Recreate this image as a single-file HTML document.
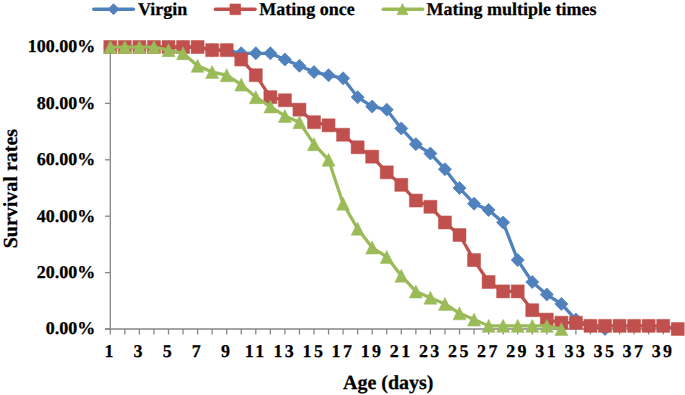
<!DOCTYPE html>
<html><head><meta charset="utf-8"><style>
html,body{margin:0;padding:0;background:#fff;}
body{width:685px;height:395px;overflow:hidden;}
svg{display:block;}
.t{text-rendering:geometricPrecision;font-family:"Liberation Serif",serif;font-weight:bold;font-size:18px;fill:#000;stroke:#000;stroke-width:0.25px;}
.tx{text-rendering:geometricPrecision;font-family:"Liberation Serif",serif;font-weight:bold;font-size:18px;letter-spacing:2.4px;fill:#000;stroke:#000;stroke-width:0.25px;}
.ti{text-rendering:geometricPrecision;font-family:"Liberation Serif",serif;font-weight:bold;font-size:20px;fill:#000;stroke:#000;stroke-width:0.25px;}
</style></head><body>
<svg width="685" height="395" viewBox="0 0 685 395">
<line x1="110.3" y1="47.00" x2="110.3" y2="329.0" stroke="#868686" stroke-width="1.3"/>
<line x1="105" y1="329.0" x2="678.25" y2="329.0" stroke="#868686" stroke-width="1.3"/>
<line x1="105" y1="329.00" x2="110.3" y2="329.00" stroke="#868686" stroke-width="1.3"/>
<line x1="105" y1="272.60" x2="110.3" y2="272.60" stroke="#868686" stroke-width="1.3"/>
<line x1="105" y1="216.20" x2="110.3" y2="216.20" stroke="#868686" stroke-width="1.3"/>
<line x1="105" y1="159.80" x2="110.3" y2="159.80" stroke="#868686" stroke-width="1.3"/>
<line x1="105" y1="103.40" x2="110.3" y2="103.40" stroke="#868686" stroke-width="1.3"/>
<line x1="105" y1="47.00" x2="110.3" y2="47.00" stroke="#868686" stroke-width="1.3"/>
<line x1="110.30" y1="329.0" x2="110.30" y2="334.5" stroke="#868686" stroke-width="1.3"/>
<line x1="124.85" y1="329.0" x2="124.85" y2="334.5" stroke="#868686" stroke-width="1.3"/>
<line x1="139.40" y1="329.0" x2="139.40" y2="334.5" stroke="#868686" stroke-width="1.3"/>
<line x1="153.95" y1="329.0" x2="153.95" y2="334.5" stroke="#868686" stroke-width="1.3"/>
<line x1="168.50" y1="329.0" x2="168.50" y2="334.5" stroke="#868686" stroke-width="1.3"/>
<line x1="183.05" y1="329.0" x2="183.05" y2="334.5" stroke="#868686" stroke-width="1.3"/>
<line x1="197.60" y1="329.0" x2="197.60" y2="334.5" stroke="#868686" stroke-width="1.3"/>
<line x1="212.15" y1="329.0" x2="212.15" y2="334.5" stroke="#868686" stroke-width="1.3"/>
<line x1="226.70" y1="329.0" x2="226.70" y2="334.5" stroke="#868686" stroke-width="1.3"/>
<line x1="241.25" y1="329.0" x2="241.25" y2="334.5" stroke="#868686" stroke-width="1.3"/>
<line x1="255.80" y1="329.0" x2="255.80" y2="334.5" stroke="#868686" stroke-width="1.3"/>
<line x1="270.35" y1="329.0" x2="270.35" y2="334.5" stroke="#868686" stroke-width="1.3"/>
<line x1="284.90" y1="329.0" x2="284.90" y2="334.5" stroke="#868686" stroke-width="1.3"/>
<line x1="299.45" y1="329.0" x2="299.45" y2="334.5" stroke="#868686" stroke-width="1.3"/>
<line x1="314.00" y1="329.0" x2="314.00" y2="334.5" stroke="#868686" stroke-width="1.3"/>
<line x1="328.55" y1="329.0" x2="328.55" y2="334.5" stroke="#868686" stroke-width="1.3"/>
<line x1="343.10" y1="329.0" x2="343.10" y2="334.5" stroke="#868686" stroke-width="1.3"/>
<line x1="357.65" y1="329.0" x2="357.65" y2="334.5" stroke="#868686" stroke-width="1.3"/>
<line x1="372.20" y1="329.0" x2="372.20" y2="334.5" stroke="#868686" stroke-width="1.3"/>
<line x1="386.75" y1="329.0" x2="386.75" y2="334.5" stroke="#868686" stroke-width="1.3"/>
<line x1="401.30" y1="329.0" x2="401.30" y2="334.5" stroke="#868686" stroke-width="1.3"/>
<line x1="415.85" y1="329.0" x2="415.85" y2="334.5" stroke="#868686" stroke-width="1.3"/>
<line x1="430.40" y1="329.0" x2="430.40" y2="334.5" stroke="#868686" stroke-width="1.3"/>
<line x1="444.95" y1="329.0" x2="444.95" y2="334.5" stroke="#868686" stroke-width="1.3"/>
<line x1="459.50" y1="329.0" x2="459.50" y2="334.5" stroke="#868686" stroke-width="1.3"/>
<line x1="474.05" y1="329.0" x2="474.05" y2="334.5" stroke="#868686" stroke-width="1.3"/>
<line x1="488.60" y1="329.0" x2="488.60" y2="334.5" stroke="#868686" stroke-width="1.3"/>
<line x1="503.15" y1="329.0" x2="503.15" y2="334.5" stroke="#868686" stroke-width="1.3"/>
<line x1="517.70" y1="329.0" x2="517.70" y2="334.5" stroke="#868686" stroke-width="1.3"/>
<line x1="532.25" y1="329.0" x2="532.25" y2="334.5" stroke="#868686" stroke-width="1.3"/>
<line x1="546.80" y1="329.0" x2="546.80" y2="334.5" stroke="#868686" stroke-width="1.3"/>
<line x1="561.35" y1="329.0" x2="561.35" y2="334.5" stroke="#868686" stroke-width="1.3"/>
<line x1="575.90" y1="329.0" x2="575.90" y2="334.5" stroke="#868686" stroke-width="1.3"/>
<line x1="590.45" y1="329.0" x2="590.45" y2="334.5" stroke="#868686" stroke-width="1.3"/>
<line x1="605.00" y1="329.0" x2="605.00" y2="334.5" stroke="#868686" stroke-width="1.3"/>
<line x1="619.55" y1="329.0" x2="619.55" y2="334.5" stroke="#868686" stroke-width="1.3"/>
<line x1="634.10" y1="329.0" x2="634.10" y2="334.5" stroke="#868686" stroke-width="1.3"/>
<line x1="648.65" y1="329.0" x2="648.65" y2="334.5" stroke="#868686" stroke-width="1.3"/>
<line x1="663.20" y1="329.0" x2="663.20" y2="334.5" stroke="#868686" stroke-width="1.3"/>
<line x1="677.75" y1="329.0" x2="677.75" y2="334.5" stroke="#868686" stroke-width="1.3"/>
<text transform="translate(95.30,334.40) scale(1,1.0)" text-anchor="end" class="t">0.00%</text>
<text transform="translate(95.30,278.00) scale(1,1.0)" text-anchor="end" class="t">20.00%</text>
<text transform="translate(95.30,221.60) scale(1,1.0)" text-anchor="end" class="t">40.00%</text>
<text transform="translate(95.30,165.20) scale(1,1.0)" text-anchor="end" class="t">60.00%</text>
<text transform="translate(95.30,108.80) scale(1,1.0)" text-anchor="end" class="t">80.00%</text>
<text transform="translate(95.30,52.40) scale(1,1.0)" text-anchor="end" class="t">100.00%</text>
<text transform="translate(110.20,357.00) scale(1,1.0)" text-anchor="middle" class="tx">1</text>
<text transform="translate(139.30,357.00) scale(1,1.0)" text-anchor="middle" class="tx">3</text>
<text transform="translate(168.40,357.00) scale(1,1.0)" text-anchor="middle" class="tx">5</text>
<text transform="translate(197.50,357.00) scale(1,1.0)" text-anchor="middle" class="tx">7</text>
<text transform="translate(226.60,357.00) scale(1,1.0)" text-anchor="middle" class="tx">9</text>
<text transform="translate(255.70,357.00) scale(1,1.0)" text-anchor="middle" class="tx">11</text>
<text transform="translate(284.80,357.00) scale(1,1.0)" text-anchor="middle" class="tx">13</text>
<text transform="translate(313.90,357.00) scale(1,1.0)" text-anchor="middle" class="tx">15</text>
<text transform="translate(343.00,357.00) scale(1,1.0)" text-anchor="middle" class="tx">17</text>
<text transform="translate(372.10,357.00) scale(1,1.0)" text-anchor="middle" class="tx">19</text>
<text transform="translate(401.20,357.00) scale(1,1.0)" text-anchor="middle" class="tx">21</text>
<text transform="translate(430.30,357.00) scale(1,1.0)" text-anchor="middle" class="tx">23</text>
<text transform="translate(459.40,357.00) scale(1,1.0)" text-anchor="middle" class="tx">25</text>
<text transform="translate(488.50,357.00) scale(1,1.0)" text-anchor="middle" class="tx">27</text>
<text transform="translate(517.60,357.00) scale(1,1.0)" text-anchor="middle" class="tx">29</text>
<text transform="translate(546.70,357.00) scale(1,1.0)" text-anchor="middle" class="tx">31</text>
<text transform="translate(575.80,357.00) scale(1,1.0)" text-anchor="middle" class="tx">33</text>
<text transform="translate(604.90,357.00) scale(1,1.0)" text-anchor="middle" class="tx">35</text>
<text transform="translate(634.00,357.00) scale(1,1.0)" text-anchor="middle" class="tx">37</text>
<text transform="translate(663.10,357.00) scale(1,1.0)" text-anchor="middle" class="tx">39</text>
<text transform="translate(388.20,388.60) scale(1,1)" text-anchor="middle" class="ti">Age (days)</text>
<text transform="translate(16.9,188.6) rotate(-90) scale(1,1.0)" text-anchor="middle" class="ti">Survival rates</text>
<polyline points="110.30,47.00 124.85,47.00 139.40,47.00 153.95,47.00 168.50,47.00 183.05,47.00 197.60,47.00 212.15,50.13 226.70,50.13 241.25,53.27 255.80,53.27 270.35,53.27 284.90,59.53 299.45,65.80 314.00,72.07 328.55,75.20 343.10,78.33 357.65,97.13 372.20,106.53 386.75,109.67 401.30,128.47 415.85,144.13 430.40,153.53 444.95,169.20 459.50,188.00 474.05,203.67 488.60,209.93 503.15,222.47 517.70,260.07 532.25,282.00 546.80,294.53 561.35,303.93 575.90,319.60 590.45,325.87 605.00,329.00" fill="none" stroke="#4F81BD" stroke-width="3.25" stroke-linejoin="round" stroke-linecap="round"/>
<path d="M110.30,40.50L116.80,47.00L110.30,53.50L103.80,47.00Z" fill="#4F81BD" stroke="#4F81BD" stroke-width="0.8" stroke-linejoin="round"/>
<path d="M124.85,40.50L131.35,47.00L124.85,53.50L118.35,47.00Z" fill="#4F81BD" stroke="#4F81BD" stroke-width="0.8" stroke-linejoin="round"/>
<path d="M139.40,40.50L145.90,47.00L139.40,53.50L132.90,47.00Z" fill="#4F81BD" stroke="#4F81BD" stroke-width="0.8" stroke-linejoin="round"/>
<path d="M153.95,40.50L160.45,47.00L153.95,53.50L147.45,47.00Z" fill="#4F81BD" stroke="#4F81BD" stroke-width="0.8" stroke-linejoin="round"/>
<path d="M168.50,40.50L175.00,47.00L168.50,53.50L162.00,47.00Z" fill="#4F81BD" stroke="#4F81BD" stroke-width="0.8" stroke-linejoin="round"/>
<path d="M183.05,40.50L189.55,47.00L183.05,53.50L176.55,47.00Z" fill="#4F81BD" stroke="#4F81BD" stroke-width="0.8" stroke-linejoin="round"/>
<path d="M197.60,40.50L204.10,47.00L197.60,53.50L191.10,47.00Z" fill="#4F81BD" stroke="#4F81BD" stroke-width="0.8" stroke-linejoin="round"/>
<path d="M212.15,43.63L218.65,50.13L212.15,56.63L205.65,50.13Z" fill="#4F81BD" stroke="#4F81BD" stroke-width="0.8" stroke-linejoin="round"/>
<path d="M226.70,43.63L233.20,50.13L226.70,56.63L220.20,50.13Z" fill="#4F81BD" stroke="#4F81BD" stroke-width="0.8" stroke-linejoin="round"/>
<path d="M241.25,46.77L247.75,53.27L241.25,59.77L234.75,53.27Z" fill="#4F81BD" stroke="#4F81BD" stroke-width="0.8" stroke-linejoin="round"/>
<path d="M255.80,46.77L262.30,53.27L255.80,59.77L249.30,53.27Z" fill="#4F81BD" stroke="#4F81BD" stroke-width="0.8" stroke-linejoin="round"/>
<path d="M270.35,46.77L276.85,53.27L270.35,59.77L263.85,53.27Z" fill="#4F81BD" stroke="#4F81BD" stroke-width="0.8" stroke-linejoin="round"/>
<path d="M284.90,53.03L291.40,59.53L284.90,66.03L278.40,59.53Z" fill="#4F81BD" stroke="#4F81BD" stroke-width="0.8" stroke-linejoin="round"/>
<path d="M299.45,59.30L305.95,65.80L299.45,72.30L292.95,65.80Z" fill="#4F81BD" stroke="#4F81BD" stroke-width="0.8" stroke-linejoin="round"/>
<path d="M314.00,65.57L320.50,72.07L314.00,78.57L307.50,72.07Z" fill="#4F81BD" stroke="#4F81BD" stroke-width="0.8" stroke-linejoin="round"/>
<path d="M328.55,68.70L335.05,75.20L328.55,81.70L322.05,75.20Z" fill="#4F81BD" stroke="#4F81BD" stroke-width="0.8" stroke-linejoin="round"/>
<path d="M343.10,71.83L349.60,78.33L343.10,84.83L336.60,78.33Z" fill="#4F81BD" stroke="#4F81BD" stroke-width="0.8" stroke-linejoin="round"/>
<path d="M357.65,90.63L364.15,97.13L357.65,103.63L351.15,97.13Z" fill="#4F81BD" stroke="#4F81BD" stroke-width="0.8" stroke-linejoin="round"/>
<path d="M372.20,100.03L378.70,106.53L372.20,113.03L365.70,106.53Z" fill="#4F81BD" stroke="#4F81BD" stroke-width="0.8" stroke-linejoin="round"/>
<path d="M386.75,103.17L393.25,109.67L386.75,116.17L380.25,109.67Z" fill="#4F81BD" stroke="#4F81BD" stroke-width="0.8" stroke-linejoin="round"/>
<path d="M401.30,121.97L407.80,128.47L401.30,134.97L394.80,128.47Z" fill="#4F81BD" stroke="#4F81BD" stroke-width="0.8" stroke-linejoin="round"/>
<path d="M415.85,137.63L422.35,144.13L415.85,150.63L409.35,144.13Z" fill="#4F81BD" stroke="#4F81BD" stroke-width="0.8" stroke-linejoin="round"/>
<path d="M430.40,147.03L436.90,153.53L430.40,160.03L423.90,153.53Z" fill="#4F81BD" stroke="#4F81BD" stroke-width="0.8" stroke-linejoin="round"/>
<path d="M444.95,162.70L451.45,169.20L444.95,175.70L438.45,169.20Z" fill="#4F81BD" stroke="#4F81BD" stroke-width="0.8" stroke-linejoin="round"/>
<path d="M459.50,181.50L466.00,188.00L459.50,194.50L453.00,188.00Z" fill="#4F81BD" stroke="#4F81BD" stroke-width="0.8" stroke-linejoin="round"/>
<path d="M474.05,197.17L480.55,203.67L474.05,210.17L467.55,203.67Z" fill="#4F81BD" stroke="#4F81BD" stroke-width="0.8" stroke-linejoin="round"/>
<path d="M488.60,203.43L495.10,209.93L488.60,216.43L482.10,209.93Z" fill="#4F81BD" stroke="#4F81BD" stroke-width="0.8" stroke-linejoin="round"/>
<path d="M503.15,215.97L509.65,222.47L503.15,228.97L496.65,222.47Z" fill="#4F81BD" stroke="#4F81BD" stroke-width="0.8" stroke-linejoin="round"/>
<path d="M517.70,253.57L524.20,260.07L517.70,266.57L511.20,260.07Z" fill="#4F81BD" stroke="#4F81BD" stroke-width="0.8" stroke-linejoin="round"/>
<path d="M532.25,275.50L538.75,282.00L532.25,288.50L525.75,282.00Z" fill="#4F81BD" stroke="#4F81BD" stroke-width="0.8" stroke-linejoin="round"/>
<path d="M546.80,288.03L553.30,294.53L546.80,301.03L540.30,294.53Z" fill="#4F81BD" stroke="#4F81BD" stroke-width="0.8" stroke-linejoin="round"/>
<path d="M561.35,297.43L567.85,303.93L561.35,310.43L554.85,303.93Z" fill="#4F81BD" stroke="#4F81BD" stroke-width="0.8" stroke-linejoin="round"/>
<path d="M575.90,313.10L582.40,319.60L575.90,326.10L569.40,319.60Z" fill="#4F81BD" stroke="#4F81BD" stroke-width="0.8" stroke-linejoin="round"/>
<path d="M590.45,319.37L596.95,325.87L590.45,332.37L583.95,325.87Z" fill="#4F81BD" stroke="#4F81BD" stroke-width="0.8" stroke-linejoin="round"/>
<path d="M605.00,322.50L611.50,329.00L605.00,335.50L598.50,329.00Z" fill="#4F81BD" stroke="#4F81BD" stroke-width="0.8" stroke-linejoin="round"/>
<polyline points="110.30,47.00 124.85,47.00 139.40,47.00 153.95,47.00 168.50,47.00 183.05,47.00 197.60,47.00 212.15,50.13 226.70,50.13 241.25,59.53 255.80,75.20 270.35,97.13 284.90,100.27 299.45,109.67 314.00,122.20 328.55,125.33 343.10,134.73 357.65,147.27 372.20,156.67 386.75,172.33 401.30,184.87 415.85,200.53 430.40,206.80 444.95,222.47 459.50,235.00 474.05,260.07 488.60,282.00 503.15,291.40 517.70,291.40 532.25,310.20 546.80,319.60 561.35,322.73 575.90,322.73 590.45,325.87 605.00,325.87 619.55,325.87 634.10,325.87 648.65,325.87 663.20,325.87 677.75,329.00" fill="none" stroke="#C0504D" stroke-width="3.25" stroke-linejoin="round" stroke-linecap="round"/>
<rect x="103.80" y="40.50" width="13.00" height="13.00" fill="#C0504D" stroke="#C0504D" stroke-width="0.5" stroke-linejoin="round"/>
<rect x="118.35" y="40.50" width="13.00" height="13.00" fill="#C0504D" stroke="#C0504D" stroke-width="0.5" stroke-linejoin="round"/>
<rect x="132.90" y="40.50" width="13.00" height="13.00" fill="#C0504D" stroke="#C0504D" stroke-width="0.5" stroke-linejoin="round"/>
<rect x="147.45" y="40.50" width="13.00" height="13.00" fill="#C0504D" stroke="#C0504D" stroke-width="0.5" stroke-linejoin="round"/>
<rect x="162.00" y="40.50" width="13.00" height="13.00" fill="#C0504D" stroke="#C0504D" stroke-width="0.5" stroke-linejoin="round"/>
<rect x="176.55" y="40.50" width="13.00" height="13.00" fill="#C0504D" stroke="#C0504D" stroke-width="0.5" stroke-linejoin="round"/>
<rect x="191.10" y="40.50" width="13.00" height="13.00" fill="#C0504D" stroke="#C0504D" stroke-width="0.5" stroke-linejoin="round"/>
<rect x="205.65" y="43.63" width="13.00" height="13.00" fill="#C0504D" stroke="#C0504D" stroke-width="0.5" stroke-linejoin="round"/>
<rect x="220.20" y="43.63" width="13.00" height="13.00" fill="#C0504D" stroke="#C0504D" stroke-width="0.5" stroke-linejoin="round"/>
<rect x="234.75" y="53.03" width="13.00" height="13.00" fill="#C0504D" stroke="#C0504D" stroke-width="0.5" stroke-linejoin="round"/>
<rect x="249.30" y="68.70" width="13.00" height="13.00" fill="#C0504D" stroke="#C0504D" stroke-width="0.5" stroke-linejoin="round"/>
<rect x="263.85" y="90.63" width="13.00" height="13.00" fill="#C0504D" stroke="#C0504D" stroke-width="0.5" stroke-linejoin="round"/>
<rect x="278.40" y="93.77" width="13.00" height="13.00" fill="#C0504D" stroke="#C0504D" stroke-width="0.5" stroke-linejoin="round"/>
<rect x="292.95" y="103.17" width="13.00" height="13.00" fill="#C0504D" stroke="#C0504D" stroke-width="0.5" stroke-linejoin="round"/>
<rect x="307.50" y="115.70" width="13.00" height="13.00" fill="#C0504D" stroke="#C0504D" stroke-width="0.5" stroke-linejoin="round"/>
<rect x="322.05" y="118.83" width="13.00" height="13.00" fill="#C0504D" stroke="#C0504D" stroke-width="0.5" stroke-linejoin="round"/>
<rect x="336.60" y="128.23" width="13.00" height="13.00" fill="#C0504D" stroke="#C0504D" stroke-width="0.5" stroke-linejoin="round"/>
<rect x="351.15" y="140.77" width="13.00" height="13.00" fill="#C0504D" stroke="#C0504D" stroke-width="0.5" stroke-linejoin="round"/>
<rect x="365.70" y="150.17" width="13.00" height="13.00" fill="#C0504D" stroke="#C0504D" stroke-width="0.5" stroke-linejoin="round"/>
<rect x="380.25" y="165.83" width="13.00" height="13.00" fill="#C0504D" stroke="#C0504D" stroke-width="0.5" stroke-linejoin="round"/>
<rect x="394.80" y="178.37" width="13.00" height="13.00" fill="#C0504D" stroke="#C0504D" stroke-width="0.5" stroke-linejoin="round"/>
<rect x="409.35" y="194.03" width="13.00" height="13.00" fill="#C0504D" stroke="#C0504D" stroke-width="0.5" stroke-linejoin="round"/>
<rect x="423.90" y="200.30" width="13.00" height="13.00" fill="#C0504D" stroke="#C0504D" stroke-width="0.5" stroke-linejoin="round"/>
<rect x="438.45" y="215.97" width="13.00" height="13.00" fill="#C0504D" stroke="#C0504D" stroke-width="0.5" stroke-linejoin="round"/>
<rect x="453.00" y="228.50" width="13.00" height="13.00" fill="#C0504D" stroke="#C0504D" stroke-width="0.5" stroke-linejoin="round"/>
<rect x="467.55" y="253.57" width="13.00" height="13.00" fill="#C0504D" stroke="#C0504D" stroke-width="0.5" stroke-linejoin="round"/>
<rect x="482.10" y="275.50" width="13.00" height="13.00" fill="#C0504D" stroke="#C0504D" stroke-width="0.5" stroke-linejoin="round"/>
<rect x="496.65" y="284.90" width="13.00" height="13.00" fill="#C0504D" stroke="#C0504D" stroke-width="0.5" stroke-linejoin="round"/>
<rect x="511.20" y="284.90" width="13.00" height="13.00" fill="#C0504D" stroke="#C0504D" stroke-width="0.5" stroke-linejoin="round"/>
<rect x="525.75" y="303.70" width="13.00" height="13.00" fill="#C0504D" stroke="#C0504D" stroke-width="0.5" stroke-linejoin="round"/>
<rect x="540.30" y="313.10" width="13.00" height="13.00" fill="#C0504D" stroke="#C0504D" stroke-width="0.5" stroke-linejoin="round"/>
<rect x="554.85" y="316.23" width="13.00" height="13.00" fill="#C0504D" stroke="#C0504D" stroke-width="0.5" stroke-linejoin="round"/>
<rect x="569.40" y="316.23" width="13.00" height="13.00" fill="#C0504D" stroke="#C0504D" stroke-width="0.5" stroke-linejoin="round"/>
<rect x="583.95" y="319.37" width="13.00" height="13.00" fill="#C0504D" stroke="#C0504D" stroke-width="0.5" stroke-linejoin="round"/>
<rect x="598.50" y="319.37" width="13.00" height="13.00" fill="#C0504D" stroke="#C0504D" stroke-width="0.5" stroke-linejoin="round"/>
<rect x="613.05" y="319.37" width="13.00" height="13.00" fill="#C0504D" stroke="#C0504D" stroke-width="0.5" stroke-linejoin="round"/>
<rect x="627.60" y="319.37" width="13.00" height="13.00" fill="#C0504D" stroke="#C0504D" stroke-width="0.5" stroke-linejoin="round"/>
<rect x="642.15" y="319.37" width="13.00" height="13.00" fill="#C0504D" stroke="#C0504D" stroke-width="0.5" stroke-linejoin="round"/>
<rect x="656.70" y="319.37" width="13.00" height="13.00" fill="#C0504D" stroke="#C0504D" stroke-width="0.5" stroke-linejoin="round"/>
<rect x="671.25" y="322.50" width="13.00" height="13.00" fill="#C0504D" stroke="#C0504D" stroke-width="0.5" stroke-linejoin="round"/>
<polyline points="110.30,47.00 124.85,47.00 139.40,47.00 153.95,47.00 168.50,50.13 183.05,53.27 197.60,65.80 212.15,72.07 226.70,75.20 241.25,84.60 255.80,97.13 270.35,106.53 284.90,115.93 299.45,122.20 314.00,144.13 328.55,159.80 343.10,203.67 357.65,228.73 372.20,247.53 386.75,256.93 401.30,275.73 415.85,291.40 430.40,297.67 444.95,303.93 459.50,313.33 474.05,319.60 488.60,325.87 503.15,325.87 517.70,325.87 532.25,325.87 546.80,325.87 561.35,329.00" fill="none" stroke="#9BBB59" stroke-width="3.25" stroke-linejoin="round" stroke-linecap="round"/>
<path d="M110.30,40.50L116.80,53.50L103.80,53.50Z" fill="#9BBB59" stroke="#9BBB59" stroke-width="0.5" stroke-linejoin="round"/>
<path d="M124.85,40.50L131.35,53.50L118.35,53.50Z" fill="#9BBB59" stroke="#9BBB59" stroke-width="0.5" stroke-linejoin="round"/>
<path d="M139.40,40.50L145.90,53.50L132.90,53.50Z" fill="#9BBB59" stroke="#9BBB59" stroke-width="0.5" stroke-linejoin="round"/>
<path d="M153.95,40.50L160.45,53.50L147.45,53.50Z" fill="#9BBB59" stroke="#9BBB59" stroke-width="0.5" stroke-linejoin="round"/>
<path d="M168.50,43.63L175.00,56.63L162.00,56.63Z" fill="#9BBB59" stroke="#9BBB59" stroke-width="0.5" stroke-linejoin="round"/>
<path d="M183.05,46.77L189.55,59.77L176.55,59.77Z" fill="#9BBB59" stroke="#9BBB59" stroke-width="0.5" stroke-linejoin="round"/>
<path d="M197.60,59.30L204.10,72.30L191.10,72.30Z" fill="#9BBB59" stroke="#9BBB59" stroke-width="0.5" stroke-linejoin="round"/>
<path d="M212.15,65.57L218.65,78.57L205.65,78.57Z" fill="#9BBB59" stroke="#9BBB59" stroke-width="0.5" stroke-linejoin="round"/>
<path d="M226.70,68.70L233.20,81.70L220.20,81.70Z" fill="#9BBB59" stroke="#9BBB59" stroke-width="0.5" stroke-linejoin="round"/>
<path d="M241.25,78.10L247.75,91.10L234.75,91.10Z" fill="#9BBB59" stroke="#9BBB59" stroke-width="0.5" stroke-linejoin="round"/>
<path d="M255.80,90.63L262.30,103.63L249.30,103.63Z" fill="#9BBB59" stroke="#9BBB59" stroke-width="0.5" stroke-linejoin="round"/>
<path d="M270.35,100.03L276.85,113.03L263.85,113.03Z" fill="#9BBB59" stroke="#9BBB59" stroke-width="0.5" stroke-linejoin="round"/>
<path d="M284.90,109.43L291.40,122.43L278.40,122.43Z" fill="#9BBB59" stroke="#9BBB59" stroke-width="0.5" stroke-linejoin="round"/>
<path d="M299.45,115.70L305.95,128.70L292.95,128.70Z" fill="#9BBB59" stroke="#9BBB59" stroke-width="0.5" stroke-linejoin="round"/>
<path d="M314.00,137.63L320.50,150.63L307.50,150.63Z" fill="#9BBB59" stroke="#9BBB59" stroke-width="0.5" stroke-linejoin="round"/>
<path d="M328.55,153.30L335.05,166.30L322.05,166.30Z" fill="#9BBB59" stroke="#9BBB59" stroke-width="0.5" stroke-linejoin="round"/>
<path d="M343.10,197.17L349.60,210.17L336.60,210.17Z" fill="#9BBB59" stroke="#9BBB59" stroke-width="0.5" stroke-linejoin="round"/>
<path d="M357.65,222.23L364.15,235.23L351.15,235.23Z" fill="#9BBB59" stroke="#9BBB59" stroke-width="0.5" stroke-linejoin="round"/>
<path d="M372.20,241.03L378.70,254.03L365.70,254.03Z" fill="#9BBB59" stroke="#9BBB59" stroke-width="0.5" stroke-linejoin="round"/>
<path d="M386.75,250.43L393.25,263.43L380.25,263.43Z" fill="#9BBB59" stroke="#9BBB59" stroke-width="0.5" stroke-linejoin="round"/>
<path d="M401.30,269.23L407.80,282.23L394.80,282.23Z" fill="#9BBB59" stroke="#9BBB59" stroke-width="0.5" stroke-linejoin="round"/>
<path d="M415.85,284.90L422.35,297.90L409.35,297.90Z" fill="#9BBB59" stroke="#9BBB59" stroke-width="0.5" stroke-linejoin="round"/>
<path d="M430.40,291.17L436.90,304.17L423.90,304.17Z" fill="#9BBB59" stroke="#9BBB59" stroke-width="0.5" stroke-linejoin="round"/>
<path d="M444.95,297.43L451.45,310.43L438.45,310.43Z" fill="#9BBB59" stroke="#9BBB59" stroke-width="0.5" stroke-linejoin="round"/>
<path d="M459.50,306.83L466.00,319.83L453.00,319.83Z" fill="#9BBB59" stroke="#9BBB59" stroke-width="0.5" stroke-linejoin="round"/>
<path d="M474.05,313.10L480.55,326.10L467.55,326.10Z" fill="#9BBB59" stroke="#9BBB59" stroke-width="0.5" stroke-linejoin="round"/>
<path d="M488.60,319.37L495.10,332.37L482.10,332.37Z" fill="#9BBB59" stroke="#9BBB59" stroke-width="0.5" stroke-linejoin="round"/>
<path d="M503.15,319.37L509.65,332.37L496.65,332.37Z" fill="#9BBB59" stroke="#9BBB59" stroke-width="0.5" stroke-linejoin="round"/>
<path d="M517.70,319.37L524.20,332.37L511.20,332.37Z" fill="#9BBB59" stroke="#9BBB59" stroke-width="0.5" stroke-linejoin="round"/>
<path d="M532.25,319.37L538.75,332.37L525.75,332.37Z" fill="#9BBB59" stroke="#9BBB59" stroke-width="0.5" stroke-linejoin="round"/>
<path d="M546.80,319.37L553.30,332.37L540.30,332.37Z" fill="#9BBB59" stroke="#9BBB59" stroke-width="0.5" stroke-linejoin="round"/>
<path d="M561.35,322.50L567.85,335.50L554.85,335.50Z" fill="#9BBB59" stroke="#9BBB59" stroke-width="0.5" stroke-linejoin="round"/>
<line x1="93.8" y1="9.2" x2="133.4" y2="9.2" stroke="#4F81BD" stroke-width="3.5" stroke-linecap="round"/>
<path d="M113.50,3.75L119.00,9.25L113.50,14.75L108.00,9.25Z" fill="#4F81BD" stroke="#4F81BD" stroke-width="0.8" stroke-linejoin="round"/>
<text transform="translate(138.00,14.90) scale(1,1.0)" text-anchor="start" class="t">Virgin</text>
<line x1="215.4" y1="9.2" x2="255.0" y2="9.2" stroke="#C0504D" stroke-width="3.5" stroke-linecap="round"/>
<rect x="229.90" y="3.95" width="10.80" height="10.80" fill="#C0504D" stroke="#C0504D" stroke-width="0.5" stroke-linejoin="round"/>
<text transform="translate(259.30,14.90) scale(1,1.0)" text-anchor="start" class="t">Mating once</text>
<line x1="383.2" y1="9.2" x2="422.6" y2="9.2" stroke="#9BBB59" stroke-width="3.5" stroke-linecap="round"/>
<path d="M402.50,3.50L408.10,14.70L396.90,14.70Z" fill="#9BBB59" stroke="#9BBB59" stroke-width="0.5" stroke-linejoin="round"/>
<text transform="translate(426.40,14.90) scale(1,1.0)" text-anchor="start" class="t">Mating multiple times</text>
</svg>
</body></html>
